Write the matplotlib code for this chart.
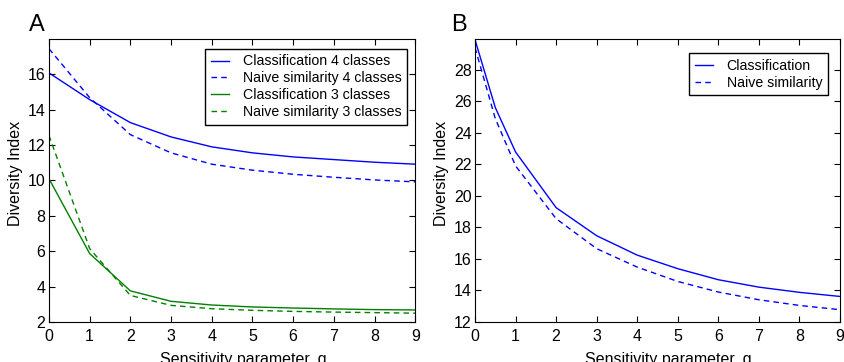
import matplotlib
matplotlib.use('Agg')
import matplotlib.pyplot as plt

plt.rcParams['font.family'] = ['Liberation Sans', 'DejaVu Sans']
plt.rcParams['xtick.direction'] = 'in'
plt.rcParams['ytick.direction'] = 'in'
plt.rcParams['xtick.top'] = True
plt.rcParams['ytick.right'] = True
plt.rcParams['xtick.major.size'] = 4
plt.rcParams['ytick.major.size'] = 4

# panel A data
g_a = [0, 1, 2, 3, 4, 5, 6, 7, 8, 9]
class4 = [16.08, 14.57, 13.27, 12.46, 11.9, 11.56, 11.33, 11.18, 11.03, 10.92]
naive4 = [17.45, 14.68, 12.59, 11.56, 10.92, 10.58, 10.35, 10.18, 10.03, 9.92]
class3 = [10.1, 5.87, 3.76, 3.17, 2.96, 2.85, 2.79, 2.74, 2.7, 2.68]
naive3 = [12.55, 6.15, 3.5, 2.94, 2.75, 2.66, 2.6, 2.56, 2.53, 2.5]

# panel B data
g_b = [0, 0.5, 1, 2, 3, 4, 5, 6, 7, 8, 9]
class_b = [29.9, 25.6, 22.78, 19.25, 17.47, 16.24, 15.38, 14.68, 14.21, 13.88, 13.62]
naive_b = [29.4, 24.9, 21.9, 18.55, 16.65, 15.48, 14.57, 13.9, 13.41, 13.05, 12.78]

fig = plt.figure(figsize=(8.44, 3.62), dpi=100)
ax1 = fig.add_axes([0.058, 0.1105, 0.434, 0.782])
ax2 = fig.add_axes([0.5628, 0.1105, 0.4325, 0.782])

dash = (0, (4, 3))
ax1.plot(g_a, class4, color='b', lw=1, label='Classification 4 classes')
ax1.plot(g_a, naive4, color='b', lw=1, linestyle=dash, label='Naive similarity 4 classes')
ax1.plot(g_a, class3, color='g', lw=1, label='Classification 3 classes')
ax1.plot(g_a, naive3, color='g', lw=1, linestyle=dash, label='Naive similarity 3 classes')
ax1.set_xlim(0, 9)
ax1.set_ylim(2, 18)
ax1.set_xticks(range(0, 10))
ax1.set_yticks(range(2, 17, 2))

ax2.plot(g_b, class_b, color='b', lw=1, label='Classification')
ax2.plot(g_b, naive_b, color='b', lw=1, linestyle=dash, label='Naive similarity')
ax2.set_xlim(0, 9)
ax2.set_ylim(12, 29.95)
ax2.set_xticks(range(0, 10))
ax2.set_yticks(range(12, 29, 2))

anchors = [(0.978, 0.965), (0.967, 0.950)]
for ax, anc in zip((ax1, ax2), anchors):
    ax.tick_params(axis='x', labelsize=11.5, pad=5)
    ax.tick_params(axis='y', labelsize=11.5, pad=2.5)
    ax.set_xlabel('Sensitivity parameter, g', fontsize=11.5, labelpad=6)
    ax.set_ylabel('Diversity Index', fontsize=11.5, labelpad=3)
    ax.xaxis.label.set_x(0.53)
    ax.yaxis.label.set_y(0.525)
    leg = ax.legend(loc='upper right', bbox_to_anchor=anc, borderaxespad=0,
                    fontsize=10.2, fancybox=False, framealpha=1, edgecolor='k',
                    handlelength=1.3, borderpad=0.4, labelspacing=0.2,
                    handletextpad=0.95)
    leg.get_frame().set_linewidth(1)

fig.text(0.034, 0.915, 'A', fontsize=17)
fig.text(0.535, 0.915, 'B', fontsize=17)

fig.savefig('out.png', dpi=100)
